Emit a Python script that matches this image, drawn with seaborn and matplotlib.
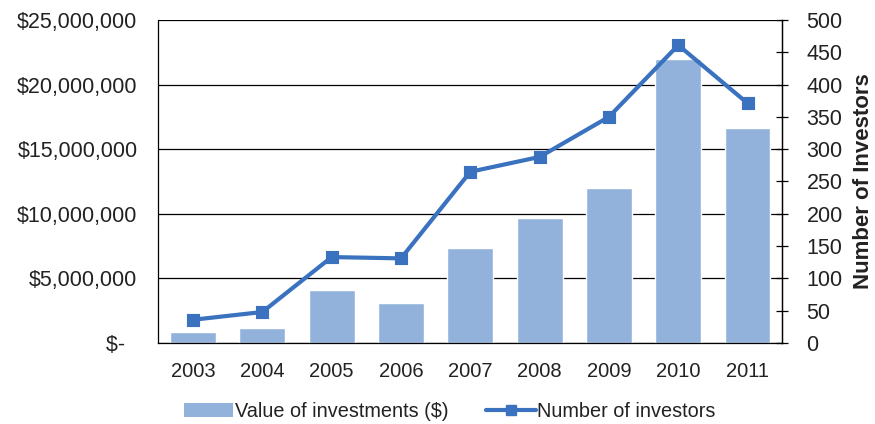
import matplotlib
matplotlib.use("Agg")
import matplotlib.pyplot as plt
import seaborn as sns
from matplotlib.patches import Patch
from matplotlib.lines import Line2D
from matplotlib.ticker import FuncFormatter

years = ["2003", "2004", "2005", "2006", "2007", "2008", "2009", "2010", "2011"]
investment_value = [850000, 1150000, 4100000, 3100000, 7350000, 9700000, 12000000, 22000000, 16600000]
num_investors = [36, 48, 133, 131, 265, 288, 350, 461, 371]

sns.set_style("white")
plt.rcParams["font.family"] = ["Liberation Sans", "DejaVu Sans"]
plt.rcParams["font.size"] = 14

bar_color = "#92B2DC"
line_color = "#3A72C0"
text_color = "#222222"

fig, ax = plt.subplots(figsize=(8.75, 4.24), dpi=100)
fig.subplots_adjust(left=0.181, right=0.894, top=0.953, bottom=0.191)

# bars: value of investments (left axis)
sns.barplot(x=years, y=investment_value, color=bar_color, saturation=1,
            width=0.66, ax=ax, zorder=2)
ax.set_ylim(0, 25000000)
ax.set_yticks(range(0, 25000001, 5000000))
ax.yaxis.set_major_formatter(FuncFormatter(lambda v, p: "$-  " if v == 0 else f"${v:,.0f}"))
ax.yaxis.grid(True, color="black", linewidth=0.9)
ax.set_axisbelow(True)
ax.tick_params(axis="y", length=0, labelsize=15.5, colors=text_color, pad=15)
ax.tick_params(axis="x", length=0, labelsize=14.5, colors=text_color, pad=14)
for s in ["left", "bottom", "right"]:
    ax.spines[s].set_color("black")
    ax.spines[s].set_linewidth(0.9)
ax.spines["top"].set_visible(False)

# line: number of investors (right axis)
ax2 = ax.twinx()
sns.pointplot(x=years, y=num_investors, color=line_color, markers="s",
              markersize=7, linewidth=3, ax=ax2)
ax2.set_ylim(0, 500)
ax2.set_yticks(range(0, 501, 50))
ax2.set_ylabel("Number of Investors", fontsize=16, fontweight="bold",
               color=text_color, labelpad=7)
ax2.tick_params(axis="y", direction="inout", length=9, width=0.9, labelsize=15.5,
                colors="black", labelcolor=text_color, pad=13)
ax2.spines["right"].set_color("black")
ax2.spines["right"].set_linewidth(0.9)
for s in ["top", "left", "bottom"]:
    ax2.spines[s].set_visible(False)
ax.set_xlim(-0.5, 8.5)

handles = [
    Patch(facecolor=bar_color, edgecolor="none", label="Value of investments ($)"),
    Line2D([0], [0], color=line_color, linewidth=3, marker="s", markersize=7,
           label="Number of investors"),
]
fig.legend(handles=handles, loc="lower center", ncol=2, frameon=False,
           bbox_to_anchor=(0.514, -0.035), fontsize=14.3, handlelength=2.5,
           handletextpad=0.08, columnspacing=1.9, labelcolor=text_color)

fig.savefig("out.png", dpi=100)
